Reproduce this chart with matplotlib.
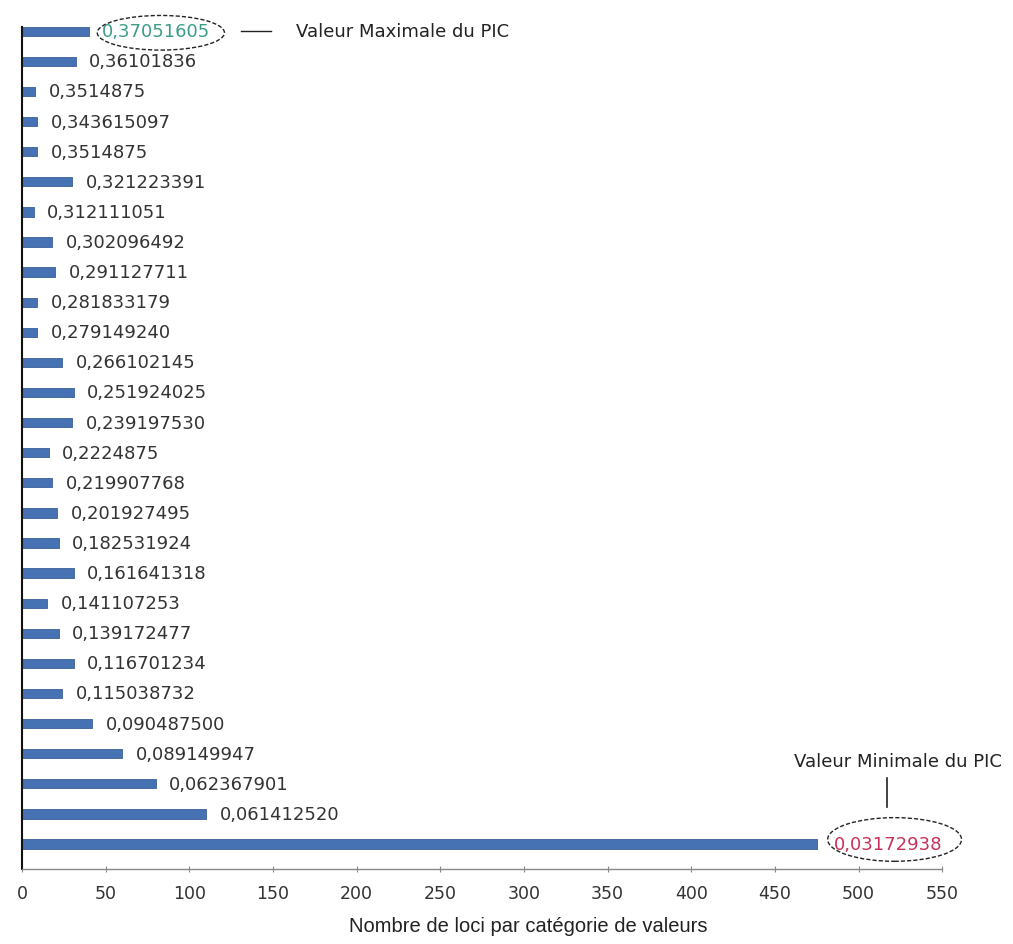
import matplotlib
matplotlib.use("Agg")
import matplotlib.pyplot as plt
from matplotlib.patches import Ellipse

# Peak-value categories, listed top to bottom as displayed
categories = [
    "0,37051605", "0,36101836", "0,3514875", "0,343615097", "0,3514875",
    "0,321223391", "0,312111051", "0,302096492", "0,291127711", "0,281833179",
    "0,279149240", "0,266102145", "0,251924025", "0,239197530", "0,2224875",
    "0,219907768", "0,201927495", "0,182531924", "0,161641318", "0,141107253",
    "0,139172477", "0,116701234", "0,115038732", "0,090487500", "0,089149947",
    "0,062367901", "0,061412520", "0,03172938",
]
# Number of loci in each category
counts = [
    40, 32, 8, 9, 9,
    30, 7, 18, 20, 9,
    9, 24, 31, 30, 16,
    18, 21, 22, 31, 15,
    22, 31, 24, 42, 60,
    80, 110, 475,
]
x_ticks = [0, 50, 100, 150, 200, 250, 300, 350, 400, 450, 500, 550]

fig = plt.figure(figsize=(10.13, 9.45), dpi=100)
ax = fig.add_axes([0.0217, 0.0794, 0.9085, 0.8906])

n = len(categories)
ypos = list(range(n - 1, -1, -1))
bar_color = "#4672b4"
ax.barh(ypos, counts, height=0.31, color=bar_color, edgecolor="#3a5f98", linewidth=0.6)

text_color = "#333333"
fs = 13
for i, (cat, c, y) in enumerate(zip(categories, counts, ypos)):
    color = text_color
    offset = 8
    if i == 0:
        color = "#3c9c8a"
    elif i == n - 1:
        color = "#c8325a"
        offset = 10
    ax.text(c + offset, y, cat, va="center", ha="left", fontsize=fs, color=color,
            family="DejaVu Sans", clip_on=False)

# Highlight maximum and minimum peak values
top_y = ypos[0]
ax.add_patch(Ellipse((83, top_y - 0.05), 76, 1.15, fill=False, edgecolor="#222222",
                     linestyle=(0, (3, 1.5)), linewidth=1.0, clip_on=False))
ax.plot([131, 149], [top_y, top_y], color="#222222", linewidth=1.0, clip_on=False)
ax.text(164, top_y, "Valeur Maximale du PIC", va="center", ha="left", fontsize=fs,
        color="#222222", clip_on=False)

bot_y = ypos[-1]
ax.add_patch(Ellipse((521.5, bot_y + 0.15), 80, 1.45, fill=False, edgecolor="#222222",
                     linestyle=(0, (3, 1.5)), linewidth=1.0, clip_on=False))
ax.plot([517, 517], [bot_y + 1.23, bot_y + 2.2], color="#222222", linewidth=1.2, clip_on=False)
ax.text(523.5, bot_y + 2.76, "Valeur Minimale du PIC", va="center", ha="center", fontsize=fs,
        color="#222222", clip_on=False)

ax.set_xlim(0, 550)
ax.set_ylim(-0.83, n - 1 + 0.13)
ax.set_xticks(x_ticks)
ax.set_xticklabels([str(t) for t in x_ticks], fontsize=12.5, color=text_color)
ax.set_yticks([])
ax.tick_params(axis="x", length=5, width=0.8, color="#888888", pad=8, direction="inout")

for side in ("top", "right"):
    ax.spines[side].set_visible(False)
ax.spines["left"].set_color("#111111")
ax.spines["left"].set_linewidth(1.5)
ax.spines["bottom"].set_color("#888888")
ax.spines["bottom"].set_linewidth(1.0)

ax.set_xlabel("Nombre de loci par catégorie de valeurs", fontsize=14.5, color="#222222",
              family="Liberation Sans")
ax.xaxis.set_label_coords(0.55, -0.056)

fig.savefig("out.png", dpi=100, facecolor="white")
